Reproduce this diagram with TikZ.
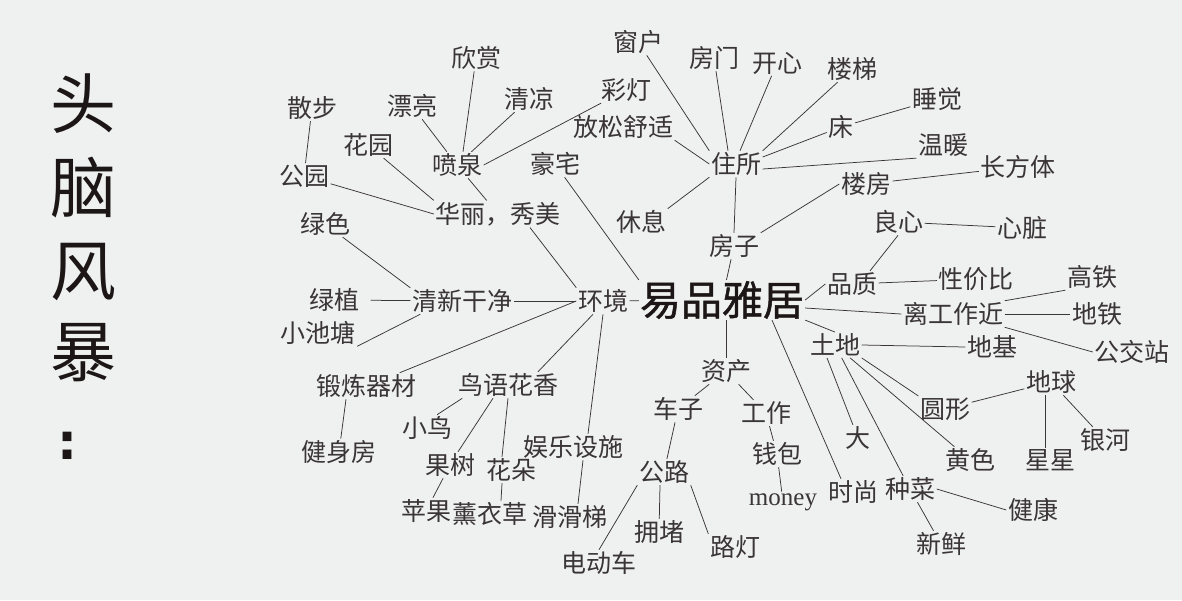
\documentclass[tikz,border=0pt]{standalone}
\usepackage{fontspec}
\setmainfont{Liberation Serif}
\newfontfamily\cjk{Noto Sans CJK SC}
\newfontfamily\cjkhub[FakeBold=1.2]{Noto Sans CJK SC}
\newfontfamily\dotfont{DejaVu Sans}
\usepackage{tikz}
\usetikzlibrary{positioning}

\definecolor{paper}{HTML}{EFF0F0}
\definecolor{ink}{HTML}{3A3536}
\definecolor{deep}{HTML}{1C1616}

\begin{document}
\begin{tikzpicture}[x=1pt, y=-1pt,
    idea/.style={font=\cjk\fontsize{25}{25}\selectfont, text=ink, inner sep=1.5pt},
    word/.style={font=\fontsize{25}{25}\selectfont, text=ink, inner sep=1.5pt},
    hub/.style={font=\cjkhub\fontsize{41}{41}\selectfont, text=deep, inner sep=1pt},
    title/.style={font=\cjk\fontsize{66}{66}\selectfont, text=deep, inner sep=0pt},
    link/.style={draw=ink, line width=0.75pt}]

    % Fondo
    \fill[paper] (0,0) rectangle (1182,600);
    \useasboundingbox (0,0) rectangle (1182,600);

    % Titulo
    \node [title] (t1) at (83,104) {头};
    \node [title] (t2) at (83,188) {脑};
    \node [title] (t3) at (83,272) {风};
    \node [title] (t4) at (83,353) {暴};
    \node [title, font=\dotfont\bfseries\fontsize{50}{50}\selectfont] (t5) at (67,446) {:};

    % Nodo central
    \node [hub] (center) at (722,300) {易品雅居};

    % Rama izquierda
    \node [idea] (xinshang) at (476,58) {欣赏};
    \node [idea] (piaoliang) at (412,106) {漂亮};
    \node [idea] (qingliang) at (529,99) {清凉};
    \node [idea] (caideng) at (626,90) {彩灯};
    \node [idea] (sanbu) at (312,108) {散步};
    \node [idea] (huayuan) at (368,145) {花园};
    \node [idea] (penquan) at (457,165) {喷泉};
    \node [idea] (gongyuan) at (304,176) {公园};
    \node [idea] (haozhai) at (555,164) {豪宅};
    \node [idea] (huali) at (498,214) {华丽，秀美};
    \node [idea] (lvse) at (325,224) {绿色};
    \node [idea] (lvzhi) at (334,300) {绿植};
    \node [idea] (qingxin) at (462,301) {清新干净};
    \node [idea] (xiaochi) at (318,333) {小池塘};
    \node [idea] (huanjing) at (603,301) {环境};
    \node [idea] (duanlian) at (366,386) {锻炼器材};
    \node [idea] (jianshen) at (339,452) {健身房};
    \node [idea] (niaoyu) at (508,385) {鸟语花香};
    \node [idea] (xiaoniao) at (427,428) {小鸟};
    \node [idea] (guoshu) at (450,465) {果树};
    \node [idea] (huaduo) at (511,470) {花朵};
    \node [idea] (yule) at (573,447) {娱乐设施};
    \node [idea] (pingguo) at (426,511) {苹果};
    \node [idea] (xunyi) at (490,514) {薰衣草};
    \node [idea] (huatiti) at (570,517) {滑滑梯};

    % Rama superior
    \node [idea] (fangsong) at (623,127) {放松舒适};
    \node [idea] (chuanghu) at (638,42) {窗户};
    \node [idea] (fangmen) at (714,58) {房门};
    \node [idea] (kaixin) at (777,63) {开心};
    \node [idea] (louti) at (852,69) {楼梯};
    \node [idea] (chuang) at (841,127) {床};
    \node [idea] (zhusuo) at (736,164) {住所};
    \node [idea] (xiuxi) at (641,222) {休息};
    \node [idea] (fangzi) at (734,246) {房子};
    \node [idea] (loufang) at (866,184) {楼房};
    \node [idea] (shuijiao) at (937,99) {睡觉};
    \node [idea] (wennuan) at (943,145) {温暖};
    \node [idea] (changfangti) at (1018,167) {长方体};

    % Rama derecha
    \node [idea] (liangxin) at (898,222) {良心};
    \node [idea] (xinzang) at (1022,228) {心脏};
    \node [idea] (pinzhi) at (852,284) {品质};
    \node [idea] (xingjiabi) at (976,279) {性价比};
    \node [idea] (gaotie) at (1092,277) {高铁};
    \node [idea] (ligongzuo) at (953,314) {离工作近};
    \node [idea] (ditie) at (1097,314) {地铁};
    \node [idea] (gongjiao) at (1132,352) {公交站};
    \node [idea] (tudi) at (835,345) {土地};
    \node [idea] (diji) at (992,347) {地基};
    \node [idea] (diqiu) at (1051,382) {地球};
    \node [idea] (yuanxing) at (945,409) {圆形};
    \node [idea] (da) at (858,438) {大};
    \node [idea] (huangse) at (970,460) {黄色};
    \node [idea] (xingxing) at (1050,460) {星星};
    \node [idea] (yinhe) at (1105,440) {银河};
    \node [idea] (shishang) at (853,492) {时尚};
    \node [idea] (zhongcai) at (910,489) {种菜};
    \node [idea] (jiankang) at (1033,510) {健康};
    \node [idea] (xinxian) at (941,544) {新鲜};

    % Rama inferior
    \node [idea] (zichan) at (726,371) {资产};
    \node [idea] (chezi) at (678,409) {车子};
    \node [idea] (gongzuo) at (766,413) {工作};
    \node [idea] (qianbao) at (777,454) {钱包};
    \node [word] (money) at (783,502) {money};
    \node [idea] (gonglu) at (664,472) {公路};
    \node [idea] (yongdu) at (659,532) {拥堵};
    \node [idea] (ludeng) at (735,547) {路灯};
    \node [idea] (diandong) at (599,563) {电动车};

    % Conexiones: izquierda
    \draw[link] (sanbu) -- (gongyuan);
    \draw[link] (piaoliang) -- (penquan);
    \draw[link] (xinshang) -- ([xshift=6pt]penquan.north);
    \draw[link] (qingliang) -- (penquan);
    \draw[link] (caideng) -- (penquan.east);
    \draw[link] (penquan) -- (huali);
    \draw[link] (huayuan) -- (huali.north west);
    \draw[link] (gongyuan) -- (huali.west);
    \draw[link] (haozhai) -- (center.north west);
    \draw[link] ([xshift=32pt]huali.south) -- (huanjing.north west);
    \draw[link] (lvse) -- (qingxin.north west);
    \draw[link, shorten <=10pt] (lvzhi) -- (qingxin);
    \draw[link] (xiaochi.south east) -- ([xshift=10pt]qingxin.south west);
    \draw[link] (qingxin) -- (huanjing);
    \draw[link] ([xshift=-18pt]duanlian.north east) -- (huanjing.west);
    \draw[link] ([xshift=30pt]niaoyu.north) -- ([xshift=-10pt]huanjing.south);
    \draw[link] ([xshift=15pt]yule.north) -- (huanjing.south);
    \draw[link] (huanjing) -- (center);
    \draw[link] ([xshift=-20pt]duanlian.south) -- (jianshen);
    \draw[link] ([xshift=6pt]niaoyu.south west) -- ([xshift=10pt]xiaoniao.north);
    \draw[link] ([xshift=-15pt]niaoyu.south) -- ([xshift=8pt]guoshu.north);
    \draw[link] (niaoyu.south) -- ([xshift=-9pt]huaduo.north);
    \draw[link] (guoshu) -- (pingguo);
    \draw[link] ([xshift=-9pt]huaduo.south) -- ([xshift=11pt]xunyi.north);
    \draw[link] ([xshift=10pt]yule.south) -- ([xshift=8pt]huatiti.north);

    % Conexiones: arriba
    \draw[link] (chuanghu) -- (zhusuo.north west);
    \draw[link] (fangmen) -- ([xshift=-8pt]zhusuo.north);
    \draw[link] (kaixin) -- ([xshift=4pt]zhusuo.north);
    \draw[link] (louti) -- (zhusuo.north east);
    \draw[link] (chuang) -- ([yshift=7pt]zhusuo.east);
    \draw[link] (wennuan.south west) -- ([yshift=-5pt]zhusuo.east);
    \draw[link] (fangsong.south east) -- (zhusuo.west);
    \draw[link] (zhusuo.south west) -- (xiuxi.north east);
    \draw[link] (zhusuo.south) -- (fangzi.north);
    \draw[link] (loufang.west) -- (fangzi.north east);
    \draw[link] (fangzi) -- (center);
    \draw[link] (chuang) -- (shuijiao);
    \draw[link] (loufang) -- (changfangti);

    % Conexiones: derecha
    \draw[link] (center.east) -- (pinzhi.west);
    \draw[link] ([yshift=-8pt]center.east) -- (ligongzuo.west);
    \draw[link] (center.south east) -- (tudi.north);
    \draw[link] ([xshift=18pt]pinzhi.north) -- (liangxin.south);
    \draw[link] (pinzhi) -- (xingjiabi);
    \draw[link] (liangxin) -- (xinzang);
    \draw[link] (ligongzuo.north east) -- (gaotie.south west);
    \draw[link] (ligongzuo.east) -- (ditie.west);
    \draw[link] (ligongzuo.south east) -- (gongjiao.west);
    \draw[link] (tudi.east) -- (diji.west);
    \draw[link] (tudi.south east) -- (yuanxing.north west);
    \draw[link] (tudi) -- (huangse);
    \draw[link] (tudi) -- (zhongcai);
    \draw[link] ([xshift=-8pt]tudi.south) -- (da);
    \draw[link] (yuanxing) -- (diqiu);
    \draw[link] ([xshift=-6pt]diqiu.south) -- ([xshift=-5pt]xingxing.north);
    \draw[link] (diqiu) -- (yinhe);
    \draw[link] (zhongcai.east) -- (jiankang.west);
    \draw[link] (zhongcai) -- (xinxian);

    % Conexiones: abajo
    \draw[link] ([xshift=4pt]center.south) -- (zichan);
    \draw[link] (zichan) -- (chezi);
    \draw[link] (zichan) -- (gongzuo);
    \draw[link] (chezi) -- (gonglu);
    \draw[link] (gonglu.south west) -- (diandong.north);
    \draw[link] ([xshift=-4pt]gonglu.south) -- (yongdu);
    \draw[link] (gonglu.south east) -- (ludeng.north west);
    \draw[link] (gongzuo) -- (qianbao);
    \draw[link] (qianbao) -- (money);
    \draw[link] ([xshift=50pt]center.south) -- ([xshift=-12pt]shishang.north);

\end{tikzpicture}
\end{document}
